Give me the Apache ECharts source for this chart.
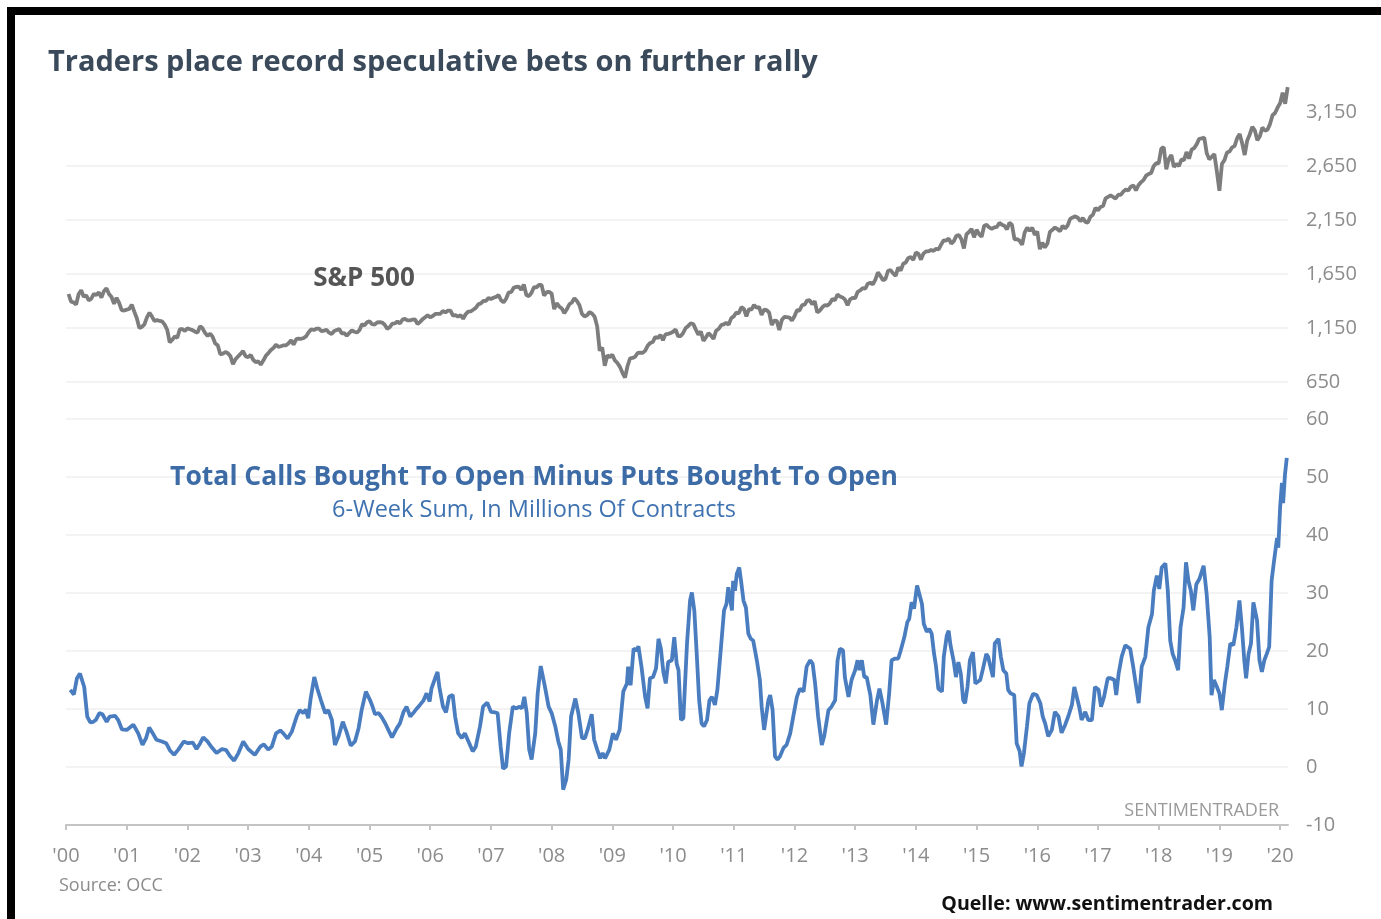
<!DOCTYPE html>
<html>
<head>
<meta charset="utf-8">
<script src="https://cdn.jsdelivr.net/npm/echarts@6/dist/echarts.min.js"></script>
<style>
html,body{margin:0;padding:0;background:#fff;}
#chart{width:1381px;height:919px;}
</style>
</head>
<body>
<div id="chart"></div>
<script>
// ---------- DATA ----------
// x-axis tick labels (years 2000..2020, position = years since 2000)
const yearLabels = ["'00","'01","'02","'03","'04","'05","'06","'07","'08","'09","'10","'11","'12","'13","'14","'15","'16","'17","'18","'19","'20"];
const yearTicks = [0,1,2,3,4,5,6,7,8,9,10,11,12,13,14,15,16,17,18,19,20];
const spxTicks = [650,1150,1650,2150,2650,3150];
const callsTicks = [-10,0,10,20,30,40,50,60];

// S&P 500, two readings per month (mid-month, month-end), Jan 2000 .. mid-Feb 2020
const spxStartYear = 2000;
const spxPerYear = 24;
const sp500 = [
1465,1394,1388,1366,1465,1499,1440,1452,1406,1421,1465,1455,1480,1431,1491,1518,1465,1437,1374,1429,1382,1315,1312,1320,
1326,1366,1301,1240,1150,1160,1183,1249,1291,1256,1214,1224,1215,1211,1181,1134,1016,1041,1073,1060,1139,1139,1124,1148,
1138,1130,1116,1107,1166,1147,1103,1077,1098,1067,1007,990,906,912,928,916,889,815,860,886,910,936,889,880,
901,856,834,841,810,848,893,917,946,964,995,975,981,990,990,1008,1036,996,1046,1051,1050,1058,1075,1112,
1139,1131,1145,1145,1120,1126,1134,1107,1095,1121,1132,1141,1101,1102,1078,1104,1128,1115,1108,1130,1184,1174,1203,1212,
1185,1181,1201,1204,1200,1181,1143,1157,1190,1192,1211,1191,1227,1234,1220,1220,1228,1229,1186,1207,1232,1249,1268,1248,
1261,1280,1280,1281,1307,1295,1311,1311,1264,1270,1256,1270,1236,1277,1302,1304,1319,1336,1369,1378,1400,1401,1428,1418,
1430,1438,1456,1407,1387,1421,1480,1482,1522,1531,1532,1503,1553,1455,1445,1474,1528,1527,1548,1549,1451,1481,1484,1468,
1325,1379,1349,1331,1288,1323,1370,1386,1425,1400,1360,1280,1257,1267,1298,1283,1255,1165,940,969,800,896,880,903,
850,826,790,735,690,798,869,873,883,919,921,919,940,987,1012,1021,1068,1057,1087,1036,1091,1096,1102,1115,
1136,1074,1075,1104,1150,1169,1192,1187,1135,1089,1117,1031,1064,1102,1079,1049,1125,1141,1176,1183,1199,1181,1242,1258,
1293,1286,1343,1327,1257,1326,1320,1364,1337,1345,1271,1321,1316,1292,1178,1219,1216,1131,1224,1253,1251,1247,1219,1258,
1315,1312,1361,1366,1404,1408,1370,1398,1295,1310,1342,1362,1357,1379,1418,1407,1460,1441,1433,1412,1360,1416,1430,1426,
1485,1498,1520,1515,1560,1569,1555,1598,1666,1631,1592,1606,1680,1686,1655,1633,1710,1682,1745,1757,1798,1806,1781,1848,
1838,1783,1839,1859,1860,1872,1864,1884,1877,1924,1962,1960,1978,1931,1955,2003,2010,1972,1886,2018,2039,2068,1990,2059,
2019,1995,2097,2105,2081,2068,2081,2086,2123,2107,2097,2063,2126,2104,1971,1972,1958,1920,2033,2079,2050,2080,2012,2044,
1880,1940,1895,1932,2040,2060,2080,2065,2046,2097,2071,2099,2161,2174,2184,2171,2139,2168,2133,2126,2181,2199,2262,2239,
2271,2279,2351,2364,2378,2363,2349,2384,2382,2412,2433,2423,2459,2470,2425,2472,2500,2519,2560,2575,2585,2648,2676,2674,
2810,2824,2620,2714,2752,2641,2670,2648,2712,2705,2780,2718,2801,2816,2850,2902,2905,2914,2767,2712,2736,2760,2600,2420,
2670,2704,2775,2784,2822,2834,2907,2946,2860,2752,2887,2942,3013,2980,2889,2926,3007,2977,2986,3038,3120,3141,3191,3231,
3329,3226,3380
];

// Calls bought to open minus puts bought to open, 6-week sum (millions)
// [years since 2000, value]
const callsData = [
[0.07,13.3],[0.13,12.5],[0.18,15.3],[0.23,16.1],[0.26,15.8],[0.30,13.8],[0.35,8.7],[0.40,7.7],[0.45,7.8],[0.49,8.1],[0.55,9.3],[0.60,9.1],[0.67,7.8],[0.72,8.7],[0.81,8.8],[0.86,8.1],[0.92,6.5],[1.00,6.4],[1.11,7.3],[1.19,5.8],[1.26,3.8],[1.32,5.0],[1.37,6.8],[1.43,5.8],[1.49,4.7],[1.58,4.4],[1.65,4.1],[1.71,2.9],[1.78,2.1],[1.85,3.0],[1.94,4.4],[2.01,4.1],[2.09,4.2],[2.15,3.1],[2.21,4.1],[2.26,5.1],[2.33,4.4],[2.40,3.4],[2.48,2.4],[2.57,3.1],[2.64,2.9],[2.70,1.9],[2.77,1.1],[2.84,2.4],[2.92,4.4],[3.00,3.1],[3.11,2.1],[3.20,3.5],[3.26,3.9],[3.33,3.0],[3.39,3.5],[3.46,5.8],[3.53,6.3],[3.58,5.8],[3.65,4.9],[3.72,6.1],[3.80,8.7],[3.85,9.8],[3.91,9.3],[3.95,9.9],[3.99,8.4],[4.03,11.8],[4.09,15.5],[4.14,13.5],[4.20,11.5],[4.27,9.3],[4.32,9.8],[4.38,8.1],[4.43,3.8],[4.49,5.3],[4.56,7.8],[4.62,6.1],[4.69,3.7],[4.76,4.4],[4.82,6.7],[4.87,9.8],[4.94,13.0],
[5.01,11.5],[5.05,10.4],[5.09,9.1],[5.15,9.3],[5.20,8.6],[5.26,7.5],[5.31,6.4],[5.37,5.1],[5.40,5.0],[5.45,6.7],[5.50,7.5],[5.56,9.5],[5.61,10.4],[5.67,8.7],[5.72,9.3],[5.78,10.1],[5.83,10.7],[5.89,11.5],[5.94,12.7],[5.99,11.3],[6.02,13.5],[6.08,15.3],[6.12,16.4],[6.15,13.8],[6.21,10.4],[6.26,9.4],[6.31,12.1],[6.37,12.4],[6.41,8.7],[6.46,5.8],[6.52,5.0],[6.57,5.8],[6.63,4.4],[6.70,2.7],[6.75,3.5],[6.82,7.0],[6.87,10.4],[6.94,11.1],[7.00,9.5],[7.07,9.4],[7.11,9.3],[7.16,3.5],[7.20,-0.3],[7.25,0.1],[7.30,5.8],[7.36,10.4],[7.41,10.1],[7.47,10.4],[7.51,10.1],[7.55,12.1],[7.59,9.3],[7.63,3.0],[7.67,1.3],[7.73,5.8],[7.77,12.7],[7.82,17.4],[7.85,17.5],[7.89,13.8],[7.95,10.4],[8.00,9.3],[8.06,7.0],[8.11,4.4],[8.15,3.0],[8.19,-3.9],[8.24,-2.2],[8.28,1.3],[8.32,8.7],[8.39,11.8],[8.44,9.3],[8.50,5.0],[8.55,5.0],[8.60,6.7],[8.66,9.1],[8.70,4.7],[8.75,3.0],[8.80,1.5],[8.84,2.4],[8.88,1.5],[8.95,3.0],[9.01,5.8],[9.06,4.7],[9.12,6.4],[9.18,13.0],[9.24,14.4],[9.26,17.3],[9.30,14.1],[9.35,20.4],[9.40,20.1],[9.43,20.8],[9.48,17.3],[9.54,12.1],[9.58,10.1],[9.62,15.3],[9.67,15.5],[9.72,17.0],[9.76,22.1],[9.80,20.4],[9.84,16.4],[9.88,14.4],[9.92,18.1],[9.98,18.4],[10.02,22.4],[10.06,17.8],[10.09,16.7],[10.13,8.1],[10.17,8.4],
[10.23,21.3],[10.28,28.7],[10.31,30.1],[10.35,27.0],[10.39,19.5],[10.43,11.5],[10.47,7.5],[10.51,7.0],[10.56,8.1],[10.60,11.5],[10.64,12.1],[10.69,10.7],[10.73,13.3],[10.79,20.7],[10.84,27.0],[10.88,28.1],[10.91,31.0],[10.94,31.0],[10.97,27.0],[10.99,32.1],[11.02,30.4],[11.05,33.3],[11.09,34.4],[11.12,32.1],[11.16,28.7],[11.20,27.5],[11.24,23.0],[11.28,22.1],[11.32,21.8],[11.38,18.4],[11.43,15.0],[11.46,10.4],[11.50,6.4],[11.53,6.1],[11.57,11.5],[11.60,12.4],[11.64,9.8],[11.68,1.8],[11.72,1.3],[11.76,1.8],[11.82,3.3],[11.87,3.8],[11.93,5.8],[11.98,8.7],[12.04,12.1],[12.09,13.5],[12.15,13.0],[12.20,17.3],[12.26,18.4],[12.30,17.8],[12.34,14.4],[12.39,8.7],[12.45,3.8],[12.49,5.3],[12.56,9.8],[12.61,10.4],[12.67,11.5],[12.71,18.4],[12.75,20.4],[12.80,20.1],[12.83,15.5],[12.89,12.1],[12.94,15.0],[13.00,16.7],[13.04,18.4],[13.07,16.7],[13.11,18.4],[13.15,15.5],[13.19,15.5],[13.25,12.4],[13.30,7.3],[13.36,11.5],[13.40,13.5],[13.45,11.0],[13.51,7.3],[13.56,12.7],[13.60,18.4],[13.66,18.7],[13.71,18.7],[13.75,20.1],[13.81,22.4],[13.86,25.0],[13.89,25.5],[13.93,28.4],[13.97,27.3],[14.00,29.8],[14.02,31.3],[14.07,29.3],[14.10,28.1],[14.13,24.7],[14.18,23.3],[14.22,23.8],[14.26,23.0],[14.30,19.5],[14.33,17.5],[14.37,13.5],[14.43,13.0],[14.46,19.0],[14.51,22.7],[14.54,23.5],[14.57,21.0],[14.62,18.4],[14.66,15.5],[14.70,18.1],[14.74,16.1],[14.78,11.5],[14.81,11.0],[14.85,13.8],[14.89,18.4],[14.94,19.8],[14.98,14.4],[15.01,14.1],[15.06,15.0],[15.10,16.7],[15.16,19.5],[15.19,19.0],
[15.27,15.5],[15.30,21.3],[15.36,22.1],[15.40,19.0],[15.44,16.7],[15.49,16.1],[15.52,13.3],[15.56,12.7],[15.62,12.4],[15.66,4.1],[15.71,2.7],[15.74,0.1],[15.78,2.4],[15.83,7.0],[15.87,11.0],[15.93,12.6],[15.99,12.4],[16.05,11.0],[16.09,8.7],[16.13,7.5],[16.18,5.3],[16.24,6.4],[16.29,9.5],[16.35,8.7],[16.40,5.9],[16.46,7.3],[16.51,8.7],[16.57,10.7],[16.61,13.8],[16.65,12.1],[16.69,10.4],[16.73,8.1],[16.79,9.5],[16.84,8.1],[16.90,8.1],[16.95,13.8],[17.01,13.3],[17.05,10.4],[17.10,12.1],[17.16,15.3],[17.21,15.3],[17.27,15.0],[17.30,12.4],[17.34,16.1],[17.39,19.0],[17.45,21.0],[17.53,20.4],[17.58,17.3],[17.63,13.8],[17.67,11.0],[17.72,17.3],[17.78,19.0],[17.83,24.1],[17.89,26.4],[17.92,30.4],[17.97,33.0],[18.01,30.7],[18.05,34.4],[18.11,35.1],[18.15,30.4],[18.19,21.8],[18.23,19.5],[18.27,18.4],[18.32,16.7],[18.36,24.1],[18.41,27.5],[18.45,35.3],[18.49,32.1],[18.53,30.4],[18.57,27.0],[18.62,31.5],[18.67,32.4],[18.74,34.7],[18.79,29.8],[18.84,22.4],[18.87,12.4],[18.91,15.0],[18.96,13.8],[19.00,12.7],[19.04,9.8],[19.09,14.4],[19.13,17.3],[19.18,21.3],[19.23,21.0],[19.28,24.1],[19.33,28.7],[19.37,24.1],[19.41,18.4],[19.44,15.3],[19.48,19.5],[19.52,21.3],[19.56,28.4],[19.62,25.3],[19.66,18.4],[19.70,16.4],[19.74,18.4],[19.78,19.5],[19.82,20.7],[19.86,32.1],[19.90,35.5],[19.95,39.5],[19.97,37.8],[20.00,44.7],[20.03,49.0],[20.05,45.5],[20.08,50.4],[20.11,53.3]
];

// ---------- BUILD ----------
const spxSeries = sp500.map((v, i) => [(i + 1) / spxPerYear, v]);
const FONT = '"Open Sans", "Noto Sans", sans-serif';
const AXIS_MAX = 20.13;

const chart = echarts.init(document.getElementById('chart'), null, {renderer: 'canvas'});
const option = {
  animation: false,
  backgroundColor: '#ffffff',
  textStyle: {fontFamily: FONT},
  grid: [
    {left: 66, right: 93, top: 85, height: 297},
    {left: 66, right: 93, top: 419, height: 406}
  ],
  xAxis: [
    {gridIndex: 0, type: 'value', min: 0, max: AXIS_MAX, show: false},
    {
      gridIndex: 1, type: 'value', min: 0, max: AXIS_MAX, position: 'bottom',
      axisLine: {show: true, onZero: false, lineStyle: {color: '#c4c4c4', width: 2}},
      axisTick: {show: true, customValues: yearTicks, length: 5, lineStyle: {color: '#c4c4c4', width: 2}},
      axisLabel: {
        customValues: yearTicks, margin: 21, color: '#8c8c8c', fontSize: 20, fontFamily: FONT,
        formatter: v => yearLabels[Math.round(v)]
      },
      splitLine: {show: false}
    }
  ],
  yAxis: [
    {
      gridIndex: 0, type: 'value', position: 'right', min: 650, max: 3400, interval: 500,
      axisLine: {show: false},
      axisTick: {show: false, customValues: spxTicks},
      axisLabel: {customValues: spxTicks, margin: 18, color: '#8c8c8c', fontSize: 20, fontFamily: FONT,
        formatter: v => v.toLocaleString('en-US')},
      splitLine: {show: true, showMaxLine: false, lineStyle: {color: '#efefef', width: 1.5}}
    },
    {
      gridIndex: 1, type: 'value', position: 'right', min: -10, max: 60, interval: 10,
      axisLine: {show: false},
      axisTick: {show: false, customValues: callsTicks},
      axisLabel: {customValues: callsTicks, margin: 18, color: '#8c8c8c', fontSize: 20, fontFamily: FONT},
      splitLine: {show: true, lineStyle: {color: '#efefef', width: 1.5}}
    }
  ],
  series: [
    {
      name: 'S&P 500', type: 'line', xAxisIndex: 0, yAxisIndex: 0,
      data: spxSeries, showSymbol: false, symbol: 'none',
      lineStyle: {color: '#7d7d7d', width: 3.8}, z: 3
    },
    {
      name: 'Calls minus puts', type: 'line', xAxisIndex: 1, yAxisIndex: 1,
      data: callsData, showSymbol: false, symbol: 'none',
      lineStyle: {color: '#4a7dbf', width: 3.8}, z: 3
    }
  ],
  graphic: [
    {type: 'rect', z: 100, shape: {x: 7, y: 7, width: 1374, height: 8}, style: {fill: '#000'}},
    {type: 'rect', z: 100, shape: {x: 7, y: 7, width: 8, height: 912}, style: {fill: '#000'}},
    {type: 'text', z: 50, style: {x: 48, y: 63, text: 'Traders place record speculative bets on further rally',
      font: 'bold 29px ' + FONT, fill: '#3b4a5b', textAlign: 'left', textVerticalAlign: 'middle'}},
    {type: 'text', z: 50, style: {x: 364, y: 279, text: 'S&P 500',
      font: 'bold 26px ' + FONT, fill: '#555555', textAlign: 'center', textVerticalAlign: 'middle'}},
    {type: 'text', z: 50, style: {x: 534, y: 477, text: 'Total Calls Bought To Open Minus Puts Bought To Open',
      font: 'bold 26.5px ' + FONT, fill: '#3d6ba6', textAlign: 'center', textVerticalAlign: 'middle'}},
    {type: 'text', z: 50, style: {x: 534, y: 510, text: '6-Week Sum, In Millions Of Contracts',
      font: '23.5px ' + FONT, fill: '#3f72b0', textAlign: 'center', textVerticalAlign: 'middle'}},
    {type: 'text', z: 50, style: {x: 1279, y: 811, text: 'SENTIMENTRADER',
      font: '18px ' + FONT, fill: '#9a9a9a', textAlign: 'right', textVerticalAlign: 'middle'}},
    {type: 'text', z: 50, style: {x: 59, y: 886, text: 'Source: OCC',
      font: '18px ' + FONT, fill: '#8c8c8c', textAlign: 'left', textVerticalAlign: 'middle'}},
    {type: 'text', z: 50, style: {x: 1273, y: 904, text: 'Quelle: www.sentimentrader.com',
      font: 'bold 19.6px ' + FONT, fill: '#111111', textAlign: 'right', textVerticalAlign: 'middle'}}
  ]
};
chart.setOption(option);
</script>
</body>
</html>
